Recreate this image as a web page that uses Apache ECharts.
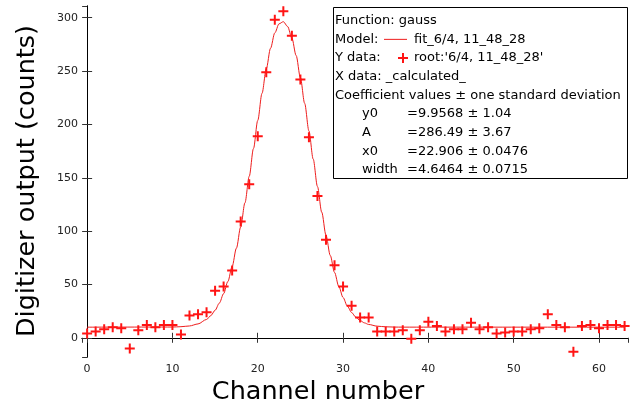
<!DOCTYPE html>
<html>
<head>
<meta charset="utf-8">
<script src="https://cdn.jsdelivr.net/npm/echarts@6.0.0/dist/echarts.min.js"></script>
<style>
html,body{margin:0;padding:0;background:#fff}
#chart{width:634px;height:409px}
</style>
</head>
<body>
<div id="chart"></div>
<script>
// digitizer counts per channel (channel = index)
const counts = [4,6,8,10,9,-10,7,12,10,12,12,3,21,22,24,44,48,63,109,144,
	189,249,298,306,283,242,188,133,92,68,48,30,19,19,6,6,6,7,-1,7,
	15,11,6,8,8,14,8,10,4,5,6,6,8,9,22,12,10,-13,11,12,
	9,12,12,11]

// fit curve
const fitX = [0,10,11,12,13,14,14.5,15,15.5,16,16.5,17,17.5,18,18.5,19,19.5,20,20.5,21,21.5,22,22.5,23,23.5,
	24,24.5,25,25.5,26,26.5,27,27.5,28,28.5,29,29.5,30,30.5,31,31.5,32,32.5,33,34,35,36,37,63]
const fitY = [9.96,10.1,10.4,11.1,13.0,17.2,20.8,25.8,32.5,41.4,52.8,66.9,84.0,103.9,126.5,151.3,177.4,203.7,229.1,252.1,271.4,
	285.8,294.3,296.3,291.8,281.0,264.6,243.8,219.7,193.9,167.5,141.8,117.8,96.1,77.2,61.3,48.2,37.8,29.8,23.7,19.3,
	16.2,14.0,12.5,10.9,10.3,10.06,10.0,9.96]

// text box contents
const infoLines = ['Function: gauss','Model:','Y data:','X data: _calculated_','Coefficient values \u00b1 one standard deviation']
const modelName = 'fit_6/4, 11_48_28'
const dataName = "root:'6/4, 11_48_28'"
const coefNames = ['y0','A','x0','width']
const coefValues = ['=9.9568 \u00b1 1.04','=286.49 \u00b1 3.67','=22.906 \u00b1 0.0476','=4.6464 \u00b1 0.0715']

const FONT = 'DejaVu Sans'
const RED = '#ff1414'
const LINE_RED = '#ee1c1c'
const PLUS = 'path://M4,0H6V4H10V6H6V10H4V6H0V4H4Z'

const lineY = i => 20.7 + 18.66 * i
const boxFont = '13px "' + FONT + '"'

const graphic = [
	{type:'rect',z:10,shape:{x:333.5,y:7.5,width:294,height:171},style:{fill:'#fff',stroke:'#000',lineWidth:1}}
]
infoLines.forEach((t,i) => {
	graphic.push({type:'text',z:11,x:335,y:lineY(i),style:{text:t,font:boxFont,fill:'#000',verticalAlign:'middle'}})
})
graphic.push({type:'line',z:11,shape:{x1:384,y1:lineY(1),x2:407,y2:lineY(1)},style:{stroke:LINE_RED,lineWidth:1}})
graphic.push({type:'text',z:11,x:414,y:lineY(1),style:{text:modelName,font:boxFont,fill:'#000',verticalAlign:'middle'}})
// plus marker in the box
graphic.push({type:'rect',z:11,shape:{x:398,y:lineY(2) - 1,width:10,height:2},style:{fill:RED}})
graphic.push({type:'rect',z:11,shape:{x:402,y:lineY(2) - 5,width:2,height:10},style:{fill:RED}})
graphic.push({type:'text',z:11,x:414,y:lineY(2),style:{text:dataName,font:boxFont,fill:'#000',verticalAlign:'middle'}})
coefNames.forEach((n,i) => {
	graphic.push({type:'text',z:11,x:362,y:lineY(5 + i),style:{text:n,font:boxFont,fill:'#000',verticalAlign:'middle'}})
	graphic.push({type:'text',z:11,x:407,y:lineY(5 + i),style:{text:coefValues[i],font:boxFont,fill:'#000',verticalAlign:'middle'}})
})
// axis titles
graphic.push({type:'text',x:318,y:392,style:{text:'Channel number',font:'25.5px "' + FONT + '"',fill:'#000',align:'center',verticalAlign:'middle'}})
graphic.push({type:'text',x:27,y:181,rotation:Math.PI / 2,style:{text:'Digitizer output (counts)',font:'25.5px "' + FONT + '"',fill:'#000',align:'center',verticalAlign:'middle'}})

const axisLine = {show:true,lineStyle:{color:'#000',width:1}}
const axisTick = {show:true,inside:true,length:5,lineStyle:{color:'#333'}}
const xRange = {min:-0.6,max:63.4,splitNumber:6}
const yRange = {min:-18,max:311,splitNumber:6}

echarts.init(document.getElementById('chart')).setOption({
	animation:false,
	backgroundColor:'#fff',
	grid:{left:82,right:6,top:6,bottom:52},
	xAxis:[
		Object.assign({type:'value',position:'bottom',axisLine:axisLine,axisTick:axisTick,splitLine:{show:false},
			axisLabel:{color:'#222',fontFamily:FONT,fontSize:11,margin:7,showMinLabel:false,showMaxLabel:false}},xRange),
		Object.assign({type:'value',position:'top',axisLine:axisLine,axisTick:axisTick,splitLine:{show:false},
			axisLabel:{show:false}},xRange)
	],
	yAxis:[
		Object.assign({type:'value',position:'left',axisLine:axisLine,axisTick:axisTick,splitLine:{show:false},
			axisLabel:{color:'#222',fontFamily:FONT,fontSize:11,margin:4,showMinLabel:false,showMaxLabel:false}},yRange),
		Object.assign({type:'value',position:'right',axisLine:axisLine,axisTick:axisTick,splitLine:{show:false},
			axisLabel:{show:false}},yRange)
	],
	graphic:graphic,
	series:[
		{
			type:'line',
			data:fitX.map((x,i) => [x,fitY[i]]),
			showSymbol:false,
			smooth:0.3,
			smoothMonotone:'x',
			lineStyle:{color:LINE_RED,width:1},
			z:2
		},
		{
			type:'scatter',
			data:counts.map((v,i) => [i,v]),
			symbol:PLUS,
			symbolSize:10,
			itemStyle:{color:RED,opacity:1},
			z:3
		}
	]
})
</script>
</body>
</html>
